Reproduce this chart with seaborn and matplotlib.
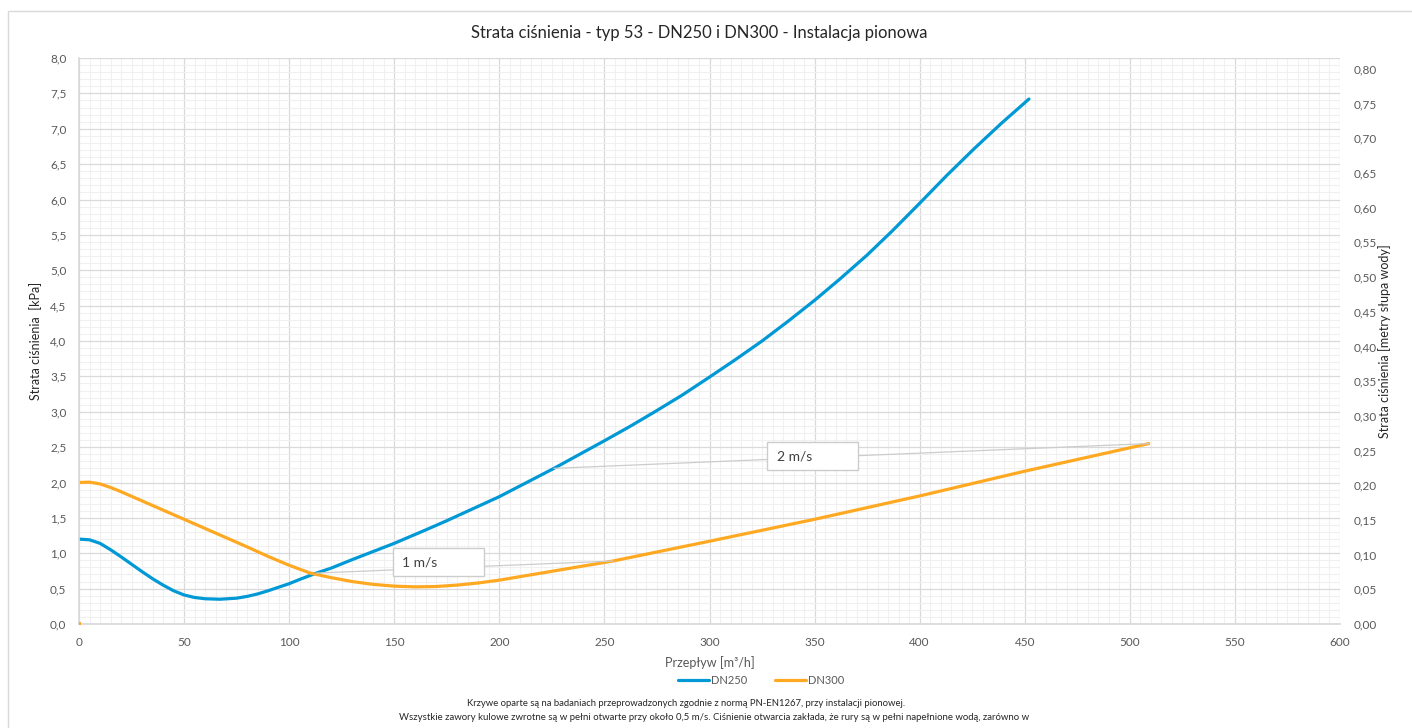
import numpy as np
import pandas as pd
import matplotlib
matplotlib.use("Agg")
import matplotlib.pyplot as plt
import seaborn as sns
from matplotlib.patches import Rectangle
from matplotlib.ticker import MultipleLocator, FuncFormatter

# Data (flow in m3/h, pressure loss in kPa)
dn250_flow = [0, 5, 10, 15, 20, 25, 30, 35, 40, 45, 50, 55, 60, 67, 75, 80, 85, 90, 95, 100,
              105, 113, 120, 130, 150, 165, 175, 200, 226, 250, 262, 274, 287, 300, 312, 325,
              337, 350, 362, 375, 387, 400, 413, 426, 439, 452]
dn250_loss = [1.20, 1.19, 1.14, 1.05, 0.95, 0.845, 0.74, 0.64, 0.55, 0.47, 0.41, 0.375, 0.357,
              0.35, 0.365, 0.39, 0.425, 0.47, 0.52, 0.57, 0.63, 0.72, 0.79, 0.91, 1.14, 1.33,
              1.46, 1.80, 2.20, 2.59, 2.79, 3.00, 3.235, 3.49, 3.73, 4.00, 4.27, 4.575, 4.875,
              5.215, 5.557, 5.947, 6.343, 6.72, 7.08, 7.42]

dn300_flow = [0, 5, 10, 15, 20, 30, 40, 50, 60, 70, 80, 90, 100, 110, 120, 130, 140, 150, 160,
              170, 180, 190, 200, 220, 254, 300, 350, 400, 450, 509]
dn300_loss = [2.00, 2.005, 1.98, 1.93, 1.87, 1.74, 1.61, 1.48, 1.35, 1.22, 1.09, 0.955, 0.83,
              0.72, 0.655, 0.60, 0.56, 0.535, 0.525, 0.53, 0.55, 0.58, 0.62, 0.72, 0.89, 1.17,
              1.48, 1.81, 2.16, 2.55]

# velocity labels, each joining a point on DN250 with a point on DN300
vel_labels = ["1 m/s", "2 m/s"]
vel_flow_a = [113, 226]
vel_loss_a = [0.72, 2.20]
vel_flow_b = [254, 509]
vel_loss_b = [0.89, 2.55]

title = "Strata ciśnienia - typ 53 - DN250 i DN300 - Instalacja pionowa"
notes = [
    "Krzywe oparte są na badaniach przeprowadzonych zgodnie z normą PN-EN1267, przy instalacji pionowej.",
    "Wszystkie zawory kulowe zwrotne są w pełni otwarte przy około 0,5 m/s. Ciśnienie otwarcia zakłada, że rury są w pełni napełnione wodą, zarówno w",
]

df = pd.concat([
    pd.DataFrame({"flow": dn250_flow, "loss": dn250_loss, "series": "DN250"}),
    pd.DataFrame({"flow": dn300_flow, "loss": dn300_loss, "series": "DN300"}),
])

sns.set_theme(style="white")
plt.rcParams["font.family"] = ["Lato", "DejaVu Sans"]

blue = "#0099d5"
orange = "#ffa922"
tick_col = "#595959"
grid_major = "#d9d9d9"
grid_minor = "#f0f0f0"

fig = plt.figure(figsize=(14.12, 7.28), dpi=100)
ax = fig.add_axes([79 / 1412, 1 - 624 / 728, (1340 - 79) / 1412, (624 - 58) / 728])

# chart border
fig.patches.append(Rectangle((8 / 1412, -0.01), 1.02, 1 - 11 / 728 + 0.01,
                             transform=fig.transFigure, fill=False, ec="#d9d9d9", lw=1))

sns.lineplot(data=df, x="flow", y="loss", hue="series", palette=[blue, orange],
             linewidth=2.3, sort=False, ax=ax, legend=False)
for ln in ax.lines:
    ln.set_solid_joinstyle("round")
ax.scatter([0], [0], marker="s", s=8, color=orange, zorder=5, linewidths=0)

# velocity leader lines and boxes
box_x0 = [149.5, 327.5]
box_x1 = [192.8, 370.8]
box_y0 = [0.678, 2.177]
box_y1 = [1.074, 2.568]
for i, lab in enumerate(vel_labels):
    ax.plot([vel_flow_a[i], vel_flow_b[i]], [vel_loss_a[i], vel_loss_b[i]],
            color="#cccccc", lw=0.9, zorder=3)
    ax.add_patch(Rectangle((box_x0[i], box_y0[i]), box_x1[i] - box_x0[i], box_y1[i] - box_y0[i],
                           fc="white", ec="#cccccc", lw=1, zorder=4))
    ax.text(box_x0[i] + 4.4, (box_y0[i] + box_y1[i]) / 2, lab, ha="left", va="center",
            fontsize=10, color="#404040", zorder=5)

ax.set_xlim(0, 600)
ax.set_ylim(0, 8)
ax.xaxis.set_major_locator(MultipleLocator(50))
ax.xaxis.set_minor_locator(MultipleLocator(5))
ax.yaxis.set_major_locator(MultipleLocator(0.5))
ax.yaxis.set_minor_locator(MultipleLocator(0.1))
ax.yaxis.set_major_formatter(FuncFormatter(lambda v, p: f"{v:.1f}".replace(".", ",")))
ax.grid(which="major", color=grid_major, lw=0.9)
ax.grid(which="minor", color=grid_minor, lw=0.8)
ax.set_axisbelow(True)
for s in ax.spines.values():
    s.set_visible(False)
ax.spines["left"].set_visible(True)
ax.spines["left"].set_color(grid_major)
ax.spines["bottom"].set_visible(True)
ax.spines["bottom"].set_color(grid_major)
ax.tick_params(which="both", length=0, labelsize=8.5, labelcolor=tick_col)
ax.tick_params(axis="y", pad=9)
ax.tick_params(axis="x", pad=9)

ax.set_xlabel("Przepływ [m³/h]", fontsize=9, color=tick_col, labelpad=6)
ax.set_ylabel("Strata ciśnienia  [kPa]", fontsize=9, color="#262626", labelpad=6)

ax2 = ax.twinx()
ax2.set_ylim(0, 0.8158)
ax2.yaxis.set_major_locator(MultipleLocator(0.05))
ax2.yaxis.set_major_formatter(FuncFormatter(lambda v, p: f"{v:.2f}".replace(".", ",")))
ax2.tick_params(length=0, labelsize=8.5, labelcolor=tick_col, pad=10)
for s in ax2.spines.values():
    s.set_visible(False)
ax2.grid(False)
ax2.set_ylabel("Strata ciśnienia [metry słupa wody]", fontsize=9, color="#262626", labelpad=1)

fig.text(699 / 1412, 1 - 33 / 728, title, ha="center", va="center", fontsize=12, color="#262626")

# legend below the axis
leg_handles = [plt.Line2D([], [], color=blue, lw=2.3), plt.Line2D([], [], color=orange, lw=2.3)]
fig.legend(leg_handles, ["DN250", "DN300"], loc="center", bbox_to_anchor=(761 / 1412, 1 - 680 / 728),
           ncol=2, frameon=False, fontsize=8, labelcolor=tick_col, handlelength=2.8,
           handletextpad=0.15, columnspacing=2.5)

fig.text(686 / 1412, 1 - 703 / 728, notes[0], ha="center", va="center", fontsize=6.8, color="#262626")
fig.text(714 / 1412, 1 - 718 / 728, notes[1], ha="center", va="center", fontsize=6.9, color="#262626")

fig.savefig("out.png", dpi=100)
